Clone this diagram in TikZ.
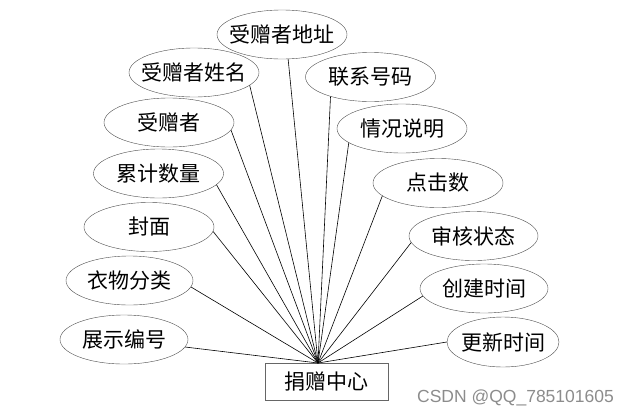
\documentclass[tikz,border=0pt]{standalone}
\usepackage{fontspec}
\newfontfamily\cjk{Noto Sans CJK SC}
\newfontfamily\wmfont{Liberation Sans}
\usetikzlibrary{shapes.geometric}
\begin{document}
\begin{tikzpicture}[x=1pt,y=-1pt,
      attr/.style={ellipse,draw=black!70,minimum width=130pt,
      minimum height=49pt,inner xsep=-12pt,inner ysep=0pt,font=\cjk\fontsize{21}{24}\selectfont},
      ent/.style={rectangle,draw=black!60,line width=1pt,minimum width=123pt,
      minimum height=37pt,inner sep=0pt,font=\cjk\fontsize{21}{24}\selectfont},
      link/.style={line width=.6pt}]
            \useasboundingbox (0,0) rectangle (628,416);
            \draw (326.5,381.5) node[ent] (C) {捐赠中心};
            \coordinate (H) at (318,363);
            \draw (282,34.5) node[attr] (A1) {受赠者地址};
            \draw (194,72.5) node[attr] (A2) {受赠者姓名};
            \draw (169,122.5) node[attr] (A3) {受赠者};
            \draw (158.5,173.5) node[attr] (A4) {累计数量};
            \draw (149,227) node[attr] (A5) {封面};
            \draw (129.5,280.5) node[attr,minimum width=127pt] (A6) {衣物分类};
            \draw (124,339.5) node[attr,minimum width=128pt] (A7) {展示编号};
            \draw (370.5,77) node[attr] (B1) {联系号码};
            \draw (402,128.5) node[attr] (B2) {情况说明};
            \draw (438,183) node[attr] (B3) {点击数};
            \draw (473.5,236) node[attr,minimum width=129pt] (B4) {审核状态};
            \draw (484,288.5) node[attr,minimum width=128pt] (B5) {创建时间};
            \draw (503,342) node[attr,minimum width=112pt,minimum height=50pt] (B6) {更新时间};

            \draw[link] (A1.-76)--(H);
            \draw[link] (A2.-13)--(H);
            \draw[link] (A3.-7)--(H);
            \draw[link] (A4.-11)--(H);
            \draw[link] (A5.-4)--(H);
            \draw[link] (A6.-6)--(H);
            \draw[link] (A7.-7)--(H);
            \draw[link] (B1.206)--(H);
            \draw[link] (B2.195)--(H);
            \draw[link] (B3.193)--(H);
            \draw[link] (B4.186)--(H);
            \draw[link] (B5.187)--(H);
            \draw[link] (B6.180)--(H);

            \draw (515.5,398) node[text=black!45,font=\wmfont\fontsize{17.5}{19}\selectfont] (W) {CSDN @QQ\_785101605};
\end{tikzpicture}
\end{document}
